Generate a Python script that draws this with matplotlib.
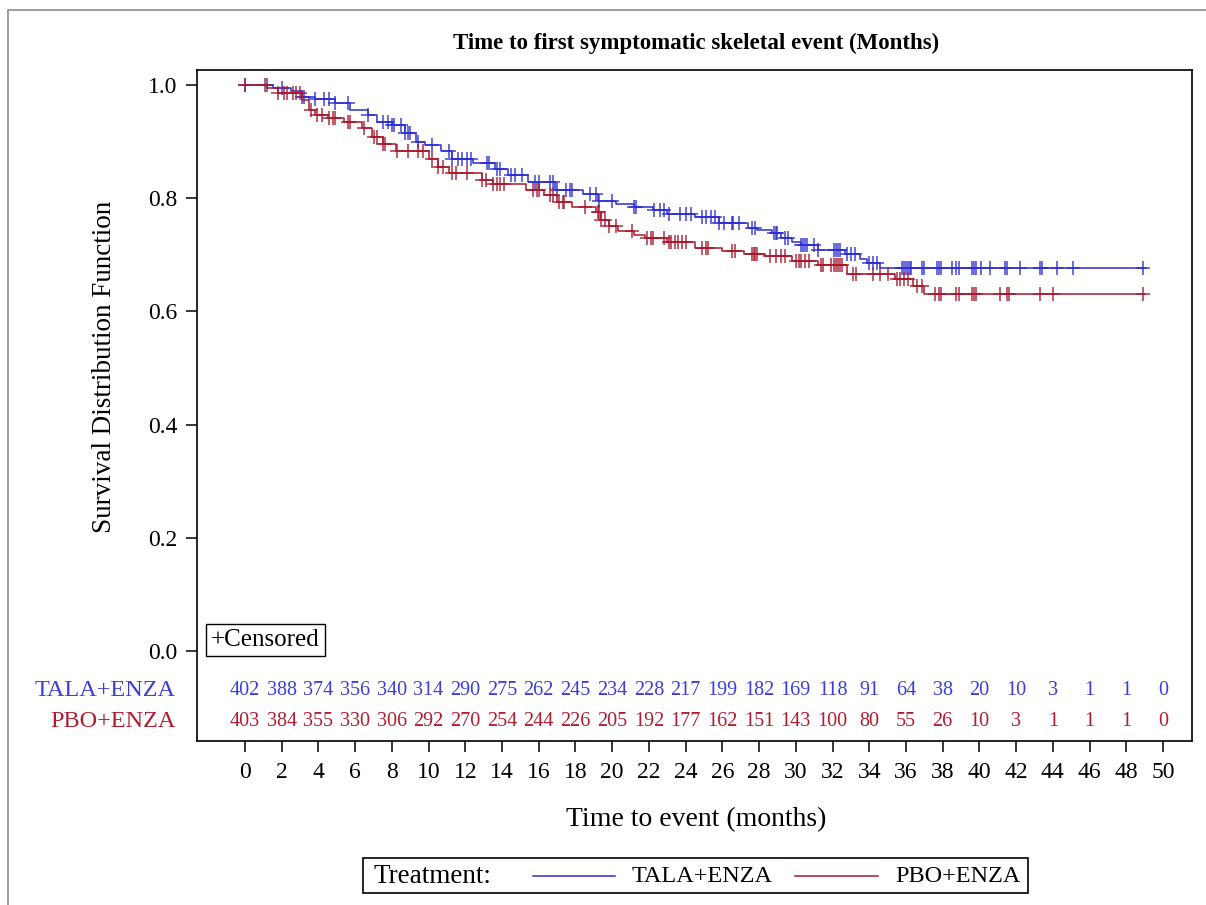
import numpy as np
import matplotlib.pyplot as plt
from matplotlib.lines import Line2D
from matplotlib.patches import Rectangle

plt.rcParams['font.family'] = ['Liberation Serif', 'DejaVu Serif']

blue = '#2E2ED2'
red = '#A8192E'
blue_txt = '#3C3CDC'
red_txt = '#B01C30'

# KM step knots (time in months, survival after the step)
tala_t = [0, 1.5, 2.5, 3.1, 3.8, 4.9, 5.7, 6.7, 7.2, 8.0, 8.7, 9.3, 9.8, 10.7, 11.3,
          12.4, 13.6, 14.3, 15.4, 16.9, 18.4, 19.2, 20.2, 21.2, 22.2, 23.0, 24.5,
          25.8, 27.4, 27.9, 28.7, 29.2, 29.8, 30.3, 31.2, 32.7, 33.5, 33.9, 34.6, 49.1]
tala_s = [1.0, 0.995, 0.99, 0.979, 0.975, 0.968, 0.955, 0.947, 0.935, 0.93, 0.915,
          0.899, 0.894, 0.883, 0.869, 0.862, 0.852, 0.841, 0.829, 0.815, 0.807, 0.795,
          0.79, 0.785, 0.779, 0.772, 0.767, 0.757, 0.748, 0.744, 0.738, 0.729, 0.723,
          0.717, 0.708, 0.701, 0.692, 0.685, 0.677, 0.677]

pbo_t = [0, 1.2, 1.8, 3.1, 3.5, 3.8, 4.5, 5.4, 6.4, 6.9, 7.5, 8.2, 10.0, 10.5, 11.1,
         12.9, 13.5, 15.3, 16.3, 17.0, 17.8, 19.1, 19.4, 19.8, 20.3, 21.2, 21.8, 23.0,
         24.5, 26.0, 27.2, 28.3, 29.8, 31.2, 32.8, 35.4, 36.4, 37.0, 49.0]
pbo_s = [1.0, 0.995, 0.985, 0.973, 0.955, 0.947, 0.942, 0.935, 0.924, 0.909, 0.896,
         0.883, 0.87, 0.855, 0.845, 0.832, 0.825, 0.814, 0.806, 0.793, 0.785, 0.775,
         0.762, 0.751, 0.742, 0.735, 0.73, 0.722, 0.712, 0.707, 0.702, 0.697, 0.689,
         0.682, 0.666, 0.657, 0.645, 0.63, 0.63]

# censoring times
tala_cens = [0, 1.2, 2.0, 3.1, 3.2, 3.8, 4.3, 4.6, 4.9, 5.6, 6.7, 7.5, 7.8, 8.0, 8.1,
             8.5, 8.7, 8.9, 9.0, 9.4, 10.2, 11.1, 11.3, 11.6, 11.8, 12.1, 12.3, 13.2,
             13.3, 13.7, 13.9, 14.5, 14.7, 15.1, 15.8, 16.0, 16.6, 16.8, 17.0, 17.5,
             17.7, 17.8, 18.8, 19.1, 19.3, 20.0, 21.2, 21.3, 22.3, 22.6, 22.8, 23.1,
             23.7, 24.0, 24.3, 24.9, 25.1, 25.4, 25.6, 25.8, 26.1, 26.5, 26.6, 26.9,
             27.6, 27.8, 28.8, 28.9, 29.0, 29.4, 29.6, 30.3, 30.4, 30.5, 30.6, 31.0,
             31.2, 32.1, 32.2, 32.3, 32.4, 32.8, 33.0, 33.2, 34.0, 34.2, 34.4, 35.8,
             35.9, 36.0, 36.1, 36.2, 36.3, 36.9, 37.0, 37.7, 37.8, 37.9, 38.5, 38.7,
             38.9, 39.6, 39.7, 39.8, 40.1, 40.6, 41.4, 41.5, 42.2, 43.3, 43.4, 44.2,
             45.1, 48.9]
pbo_cens = [0, 1.1, 1.8, 2.1, 2.3, 2.6, 2.8, 3.0, 3.6, 3.9, 4.2, 4.6, 4.8, 4.9, 5.6,
            5.7, 6.5, 7.0, 7.2, 7.5, 7.6, 8.3, 8.9, 9.4, 9.7, 10.2, 10.5, 10.8, 11.3,
            11.5, 12.1, 12.9, 13.1, 13.5, 13.7, 13.9, 14.1, 15.7, 15.9, 16.0, 16.6,
            16.8, 17.1, 17.3, 17.4, 18.5, 19.2, 19.3, 19.4, 19.6, 19.8, 20.2, 21.1,
            21.9, 22.1, 22.2, 22.8, 23.1, 23.2, 23.4, 23.6, 23.8, 24.0, 24.9, 25.1,
            25.2, 26.5, 26.7, 27.6, 27.7, 27.8, 27.9, 28.6, 28.9, 29.2, 29.4, 30.0,
            30.2, 30.3, 30.5, 30.7, 31.4, 31.5, 31.9, 32.2, 32.4, 32.1, 32.3, 32.5,
            33.1, 33.3, 34.2, 34.6, 35.0, 35.5, 35.7, 35.9, 36.1, 36.6, 36.9, 37.6,
            37.8, 37.9, 38.7, 38.9, 39.6, 39.7, 39.8, 41.1, 41.5, 41.6, 43.3, 44.0, 48.9]

risk_times = list(range(0, 51, 2))
tala_risk = [402, 388, 374, 356, 340, 314, 290, 275, 262, 245, 234, 228, 217, 199,
             182, 169, 118, 91, 64, 38, 20, 10, 3, 1, 1, 0]
pbo_risk = [403, 384, 355, 330, 306, 292, 270, 254, 244, 226, 205, 192, 177, 162,
            151, 143, 100, 80, 55, 26, 10, 3, 1, 1, 1, 0]


def surv_at(times, knots_t, knots_s):
    idx = np.searchsorted(knots_t, times, side='right') - 1
    return np.array(knots_s)[idx]


W, H = 1206, 905
fig = plt.figure(figsize=(W / 100, H / 100), dpi=100)
ax = fig.add_axes([197 / W, 1 - 741 / H, (1192 - 197) / W, (741 - 70) / H])

for kt, ks, cens, c in [(tala_t, tala_s, tala_cens, blue), (pbo_t, pbo_s, pbo_cens, red)]:
    ax.step(kt, ks, where='post', color=c, lw=1.1)
    ax.plot(cens, surv_at(cens, kt, ks), ls='none', marker='+', ms=10, mew=1.1,
            color=c, alpha=0.9)

ax.set_xlim(-2.614, 51.58)
ax.set_ylim(-0.159, 1.0265)
ax.set_xticks(risk_times)
ax.set_yticks([0, 0.2, 0.4, 0.6, 0.8, 1.0])
ax.set_yticklabels(['0.0', '0.2', '0.4', '0.6', '0.8', '1.0'])
ax.tick_params(axis='both', direction='out', length=8, width=1.1, labelsize=17, pad=6)
ax.tick_params(axis='x', pad=7)
for sp in ax.spines.values():
    sp.set_linewidth(1.2)

ax.set_ylabel('Survival Distribution Function', fontsize=19.5)
ax.yaxis.set_label_coords(-0.080, 0.557)
ax.set_xlabel('Time to event (months)', fontsize=20)
ax.xaxis.set_label_coords(0.5015, -0.098)

# number at risk
for yv, vals, col, lab in [(-0.0689, tala_risk, blue_txt, 'TALA+ENZA'),
                           (-0.1237, pbo_risk, red_txt, 'PBO+ENZA')]:
    for t, n in zip(risk_times, vals):
        ax.text(t, yv, str(n), color=col, fontsize=14.5, ha='center', va='center')
    ax.text(-0.0211, yv, lab, color=col, fontsize=17.5, ha='right', va='center',
            transform=ax.get_yaxis_transform())

ax.text(0.014, 0.1505, '+Censored', fontsize=18, ha='left', va='center',
        transform=ax.transAxes,
        bbox=dict(boxstyle='square,pad=0.2', fc='white', ec='black', lw=1))

fig.text(696 / W, 1 - 43 / H, 'Time to first symptomatic skeletal event (Months)',
         ha='center', va='center', fontsize=16.5, fontweight='bold')

# outer frame (left and top edges visible)
fig.add_artist(Rectangle((8 / W, -0.1), 1.2, 1 - 10 / H + 0.1, transform=fig.transFigure,
                         fill=False, ec='#8c8c8c', lw=1.2))

# bottom legend
fig.add_artist(Rectangle((363 / W, 1 - 893 / H), (1028 - 363) / W, 35 / H,
                         transform=fig.transFigure, fill=False, ec='black', lw=1.2))
ly = 1 - 876 / H
fig.text(373 / W, ly, 'Treatment:', fontsize=19.5, ha='left', va='center')
fig.add_artist(Line2D([533 / W, 615 / W], [ly, ly], color=blue, lw=1.1,
                      transform=fig.transFigure))
fig.text(632 / W, ly, 'TALA+ENZA', fontsize=17.5, ha='left', va='center')
fig.add_artist(Line2D([795 / W, 878 / W], [ly, ly], color=red, lw=1.1,
                      transform=fig.transFigure))
fig.text(895 / W, ly, 'PBO+ENZA', fontsize=17.5, ha='left', va='center')

fig.savefig('out.png', dpi=100)
